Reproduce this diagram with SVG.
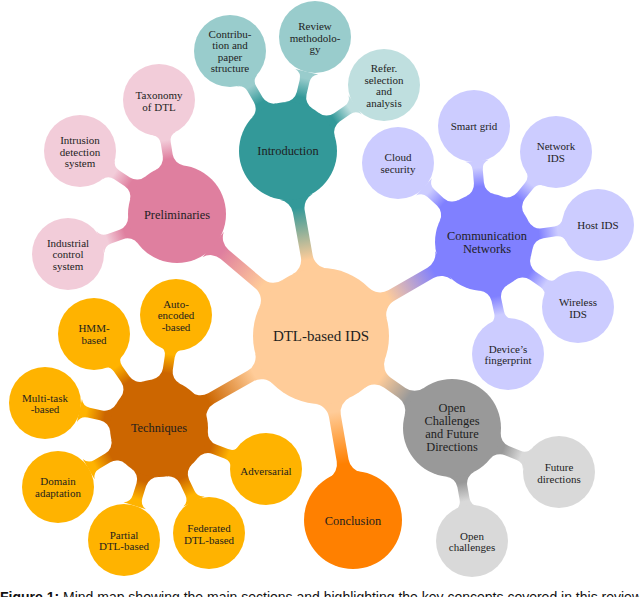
<svg xmlns="http://www.w3.org/2000/svg" width="640" height="597" viewBox="0 0 640 597">
<style>
text{fill:#1e1e1e;text-anchor:middle;dominant-baseline:central}
.t0{font-family:"Liberation Serif","Times New Roman",serif;font-size:15px}
.t1{font-family:"Liberation Serif","Times New Roman",serif;font-size:12.4px}
.t2{font-family:"Liberation Serif","Times New Roman",serif;font-size:11px}
.cap{font-family:"Liberation Sans",Arial,sans-serif;font-size:14px;text-anchor:start;dominant-baseline:auto;fill:#111}
</style>
<defs>
<path id="bar1" d="M65.63,-17.81 A16,16 0 0 0 81.07,-6 L126.34,-6 A16,16 0 0 0 141.39,-16.58 L141.39,16.58 A16,16 0 0 0 126.34,6 L81.07,6 A16,16 0 0 0 65.63,17.81 Z"/>
<path id="bar1s" d="M65.63,-17.81 A16,16 0 0 0 81.07,-6 L98.94,-6 A16,16 0 0 0 113.99,-16.58 L113.99,16.58 A16,16 0 0 0 98.94,6 L81.07,6 A16,16 0 0 0 65.63,17.81 Z"/>
<path id="bar2" d="M46.89,-14.23 A13,13 0 0 0 59.33,-5 L72.01,-5 A10,10 0 0 0 81.47,-11.74 L81.47,11.74 A10,10 0 0 0 72.01,5 L59.33,5 A13,13 0 0 0 46.89,14.23 Z"/>
<linearGradient id="g0i"><stop offset="0.15" stop-color="#FFCC99"/><stop offset="0.85" stop-color="#339999"/></linearGradient>
<linearGradient id="g0c"><stop offset="0.15" stop-color="#FFCC99"/><stop offset="0.85" stop-color="#8080FF"/></linearGradient>
<linearGradient id="g0p"><stop offset="0.15" stop-color="#FFCC99"/><stop offset="0.85" stop-color="#DF7F9F"/></linearGradient>
<linearGradient id="g0t"><stop offset="0.15" stop-color="#FFCC99"/><stop offset="0.85" stop-color="#CC6600"/></linearGradient>
<linearGradient id="g0k"><stop offset="0.15" stop-color="#FFCC99"/><stop offset="0.85" stop-color="#FF8000"/></linearGradient>
<linearGradient id="g0o"><stop offset="0.15" stop-color="#FFCC99"/><stop offset="0.85" stop-color="#999999"/></linearGradient>
<linearGradient id="gi"><stop offset="0.25" stop-color="#339999"/><stop offset="0.8" stop-color="#99CCCC"/></linearGradient>
<linearGradient id="gi2"><stop offset="0.25" stop-color="#339999"/><stop offset="0.8" stop-color="#BFDFDF"/></linearGradient>
<linearGradient id="gc"><stop offset="0.25" stop-color="#8080FF"/><stop offset="0.8" stop-color="#CCCCFF"/></linearGradient>
<linearGradient id="gp"><stop offset="0.25" stop-color="#DF7F9F"/><stop offset="0.8" stop-color="#F2CCD9"/></linearGradient>
<linearGradient id="gt"><stop offset="0.25" stop-color="#CC6600"/><stop offset="0.8" stop-color="#FFB300"/></linearGradient>
<linearGradient id="go"><stop offset="0.25" stop-color="#999999"/><stop offset="0.8" stop-color="#D9D9D9"/></linearGradient>
</defs>
<rect width="640" height="597" fill="#fff"/>
<g id="connectors">
<use href="#bar1" fill="url(#g0i)" transform="translate(321,336) rotate(-100.11)"/>
<use href="#bar1" fill="url(#g0c)" transform="translate(321,336) rotate(-29.97)"/>
<use href="#bar1" fill="url(#g0p)" transform="translate(321,336) rotate(-139.73)"/>
<use href="#bar1" fill="url(#g0t)" transform="translate(321,336) rotate(150.41)"/>
<use href="#bar1" fill="url(#g0k)" transform="translate(321,336) rotate(80.13)"/>
<use href="#bar1s" fill="url(#g0o)" transform="translate(321,336) rotate(35.08)"/>
<use href="#bar2" fill="url(#gi)" transform="translate(288,151) rotate(-120.11)"/>
<use href="#bar2" fill="url(#gi)" transform="translate(288,151) rotate(-76.68)"/>
<use href="#bar2" fill="url(#gi2)" transform="translate(288,151) rotate(-34.51)"/>
<use href="#bar2" fill="url(#gc)" transform="translate(484,242) rotate(-137.43)"/>
<use href="#bar2" fill="url(#gc)" transform="translate(484,242) rotate(-94.93)"/>
<use href="#bar2" fill="url(#gc)" transform="translate(484,242) rotate(-51.34)"/>
<use href="#bar2" fill="url(#gc)" transform="translate(484,242) rotate(-8.48)"/>
<use href="#bar2" fill="url(#gc)" transform="translate(484,242) rotate(34.66)"/>
<use href="#bar2" fill="url(#gc)" transform="translate(484,242) rotate(77.91)"/>
<use href="#bar2" fill="url(#gp)" transform="translate(177,214) rotate(-98.97)"/>
<use href="#bar2" fill="url(#gp)" transform="translate(177,214) rotate(-147)"/>
<use href="#bar2" fill="url(#gp)" transform="translate(177,214) rotate(159.85)"/>
<use href="#bar2" fill="url(#gt)" transform="translate(159,428) rotate(-81.44)"/>
<use href="#bar2" fill="url(#gt)" transform="translate(159,428) rotate(-124.66)"/>
<use href="#bar2" fill="url(#gt)" transform="translate(159,428) rotate(-167.63)"/>
<use href="#bar2" fill="url(#gt)" transform="translate(159,428) rotate(149.71)"/>
<use href="#bar2" fill="url(#gt)" transform="translate(159,428) rotate(107.35)"/>
<use href="#bar2" fill="url(#gt)" transform="translate(159,428) rotate(64.54)"/>
<use href="#bar2" fill="url(#gt)" transform="translate(159,428) rotate(20.96)"/>
<use href="#bar2" fill="url(#go)" transform="translate(452,428) rotate(22.36)"/>
<use href="#bar2" fill="url(#go)" transform="translate(452,428) rotate(79.96)"/>
</g>
<g id="n-center"><circle cx="321" cy="336" r="68" fill="#FFCC99"/><text class="t0" x="321" y="336">DTL-based IDS</text></g>
<g id="n-intro"><circle cx="288" cy="151" r="49" fill="#339999"/><text class="t1" x="288" y="151">Introduction</text></g>
<g id="n-contrib"><circle cx="230" cy="51" r="36" fill="#99CCCC"/><text class="t2"><tspan x="230" y="33.5">Contribu-</tspan><tspan x="230" y="45">tion and</tspan><tspan x="230" y="56.5">paper</tspan><tspan x="230" y="68">structure</tspan></text></g>
<g id="n-review"><circle cx="315" cy="37" r="36" fill="#99CCCC"/><text class="t2"><tspan x="315" y="26">Review</tspan><tspan x="315" y="37.5">methodolo-</tspan><tspan x="315" y="49">gy</tspan></text></g>
<g id="n-refer"><circle cx="384" cy="85" r="36" fill="#BFDFDF"/><text class="t2"><tspan x="384" y="68">Refer.</tspan><tspan x="384" y="79.5">selection</tspan><tspan x="384" y="91">and</tspan><tspan x="384" y="102.5">analysis</tspan></text></g>
<g id="n-comm"><circle cx="484" cy="242" r="49" fill="#8080FF"/><text class="t1"><tspan x="487" y="236">Communication</tspan><tspan x="487" y="249">Networks</tspan></text></g>
<g id="n-cloud"><circle cx="398" cy="163" r="36" fill="#CCCCFF"/><text class="t2"><tspan x="398" y="157">Cloud</tspan><tspan x="398" y="168.5">security</tspan></text></g>
<g id="n-smart"><circle cx="474" cy="126" r="36" fill="#CCCCFF"/><text class="t2" x="474" y="126">Smart grid</text></g>
<g id="n-network"><circle cx="556" cy="152" r="36" fill="#CCCCFF"/><text class="t2"><tspan x="556" y="146">Network</tspan><tspan x="556" y="157.5">IDS</tspan></text></g>
<g id="n-host"><circle cx="598" cy="225" r="36" fill="#CCCCFF"/><text class="t2" x="598" y="225">Host IDS</text></g>
<g id="n-wireless"><circle cx="578" cy="307" r="36" fill="#CCCCFF"/><text class="t2"><tspan x="578" y="302">Wireless</tspan><tspan x="578" y="313.5">IDS</tspan></text></g>
<g id="n-device"><circle cx="508" cy="354" r="36" fill="#CCCCFF"/><text class="t2"><tspan x="508" y="348.5">Device’s</tspan><tspan x="508" y="360">fingerprint</tspan></text></g>
<g id="n-prelim"><circle cx="177" cy="214" r="49" fill="#DF7F9F"/><text class="t1" x="177" y="215">Preliminaries</text></g>
<g id="n-taxonomy"><circle cx="159" cy="100" r="36" fill="#F2CCD9"/><text class="t2"><tspan x="159" y="95">Taxonomy</tspan><tspan x="159" y="106.5">of DTL</tspan></text></g>
<g id="n-intrusion"><circle cx="80" cy="151" r="36" fill="#F2CCD9"/><text class="t2"><tspan x="80" y="140">Intrusion</tspan><tspan x="80" y="151.5">detection</tspan><tspan x="80" y="163">system</tspan></text></g>
<g id="n-industrial"><circle cx="68" cy="254" r="36" fill="#F2CCD9"/><text class="t2"><tspan x="68" y="242.5">Industrial</tspan><tspan x="68" y="254">control</tspan><tspan x="68" y="265.5">system</tspan></text></g>
<g id="n-tech"><circle cx="159" cy="428" r="49" fill="#CC6600"/><text class="t1" x="159" y="428">Techniques</text></g>
<g id="n-auto"><circle cx="176" cy="315" r="36" fill="#FFB300"/><text class="t2"><tspan x="176" y="303.5">Auto-</tspan><tspan x="176" y="315">encoded</tspan><tspan x="176" y="326.5">-based</tspan></text></g>
<g id="n-hmm"><circle cx="94" cy="334" r="36" fill="#FFB300"/><text class="t2"><tspan x="94" y="328">HMM-</tspan><tspan x="94" y="339.5">based</tspan></text></g>
<g id="n-multi"><circle cx="45" cy="403" r="36" fill="#FFB300"/><text class="t2"><tspan x="45" y="397.5">Multi-task</tspan><tspan x="45" y="409">-based</tspan></text></g>
<g id="n-domain"><circle cx="58" cy="487" r="36" fill="#FFB300"/><text class="t2"><tspan x="58" y="481">Domain</tspan><tspan x="58" y="492.5">adaptation</tspan></text></g>
<g id="n-partial"><circle cx="124" cy="540" r="36" fill="#FFB300"/><text class="t2"><tspan x="124" y="534.5">Partial</tspan><tspan x="124" y="546">DTL-based</tspan></text></g>
<g id="n-federated"><circle cx="209" cy="533" r="36" fill="#FFB300"/><text class="t2"><tspan x="209" y="528">Federated</tspan><tspan x="209" y="539.5">DTL-based</tspan></text></g>
<g id="n-adversarial"><circle cx="266" cy="469" r="36" fill="#FFB300"/><text class="t2" x="266" y="471">Adversarial</text></g>
<g id="n-conclusion"><circle cx="353" cy="520" r="49" fill="#FF8000"/><text class="t1" x="353" y="521">Conclusion</text></g>
<g id="n-open"><circle cx="452" cy="428" r="49" fill="#999999"/><text class="t1"><tspan x="452" y="408">Open</tspan><tspan x="452" y="421">Challenges</tspan><tspan x="452" y="434">and Future</tspan><tspan x="452" y="447">Directions</tspan></text></g>
<g id="n-future"><circle cx="559" cy="472" r="36" fill="#D9D9D9"/><text class="t2"><tspan x="559" y="467">Future</tspan><tspan x="559" y="478.5">directions</tspan></text></g>
<g id="n-opench"><circle cx="472" cy="541" r="36" fill="#D9D9D9"/><text class="t2"><tspan x="472" y="535.5">Open</tspan><tspan x="472" y="547">challenges</tspan></text></g>
<text class="cap" x="0" y="601.5"><tspan font-weight="bold">Figure 1:</tspan> Mind map showing the main sections and highlighting the key concepts covered in this review</text>
</svg>
